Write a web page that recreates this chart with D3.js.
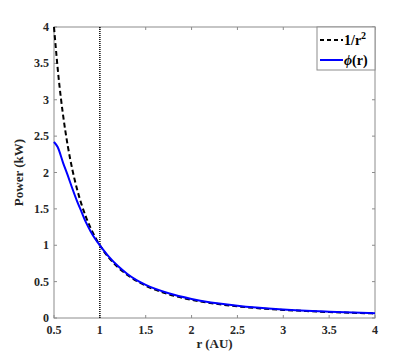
<!DOCTYPE html>
<html><head><meta charset="utf-8">
<script src="https://cdn.jsdelivr.net/npm/d3@7"></script>
<style>body{margin:0;background:#fff}</style>
</head><body>
<svg id="c" width="415" height="358"></svg>
<script>
const xTicks = [0.5,1,1.5,2,2.5,3,3.5,4];
const yTicks = [0,0.5,1,1.5,2,2.5,3,3.5,4];
const rInv = [0.5,0.55,0.6,0.65,0.7,0.75,0.8,0.85,0.9,0.95,1,1.1,1.2,1.3,1.4,1.5,1.75,2,2.25,2.5,2.75,3,3.25,3.5,3.75,4];
const invSq = [4,3.306,2.778,2.367,2.041,1.778,1.5625,1.384,1.235,1.108,1,0.826,0.694,0.592,0.510,0.444,0.327,0.25,0.198,0.16,0.132,0.111,0.095,0.082,0.071,0.0625];
const rPhi = [0.5,0.54,0.6,0.65,0.7,0.75,0.8,0.85,0.9,0.95,1,1.1,1.2,1.3,1.4,1.5,1.75,2,2.5,3,3.5,4];
const phi = [2.42,2.35,2.13,1.96,1.78,1.61,1.46,1.31,1.19,1.085,1.00,0.84,0.71,0.605,0.52,0.455,0.34,0.262,0.168,0.117,0.087,0.066];
const vLine = 1;

const svg = d3.select('#c');
const L=54,R=375,T=27,B=318;
const x = d3.scaleLinear().domain([0.5,4]).range([L,R]);
const y = d3.scaleLinear().domain([0,4]).range([B,T]);
const axisCol = '#8c8c8c';
const font = "'Liberation Serif','Times New Roman',serif";

svg.append('rect').attr('x',L).attr('y',T).attr('width',R-L).attr('height',B-T)
  .attr('fill','none').attr('stroke',axisCol).attr('stroke-width',1);

const tl = 3;
const g = svg.append('g').attr('stroke',axisCol).attr('stroke-width',1);
xTicks.forEach(t=>{
  g.append('line').attr('x1',x(t)).attr('x2',x(t)).attr('y1',B).attr('y2',B-tl);
  g.append('line').attr('x1',x(t)).attr('x2',x(t)).attr('y1',T).attr('y2',T+tl);
});
yTicks.forEach(t=>{
  g.append('line').attr('x1',L).attr('x2',L+tl).attr('y1',y(t)).attr('y2',y(t));
  g.append('line').attr('x1',R).attr('x2',R-tl).attr('y1',y(t)).attr('y2',y(t));
});
svg.append('g').selectAll('text').data(xTicks).join('text')
  .attr('x',d=>x(d)).attr('y',334).attr('text-anchor','middle')
  .attr('font-family',font).attr('font-weight','bold').attr('font-size',12).attr('fill','#262626')
  .text(d=>d);
svg.append('g').selectAll('text').data(yTicks).join('text')
  .attr('x',L-5).attr('y',d=>y(d)+4).attr('text-anchor','end')
  .attr('font-family',font).attr('font-weight','bold').attr('font-size',12).attr('fill','#262626')
  .text(d=>d);
svg.append('text').attr('x',(L+R)/2).attr('y',348).attr('text-anchor','middle')
  .attr('font-family',font).attr('font-weight','bold').attr('font-size',13).attr('fill','#262626')
  .text('r (AU)');
svg.append('text').attr('transform',`translate(23,${(T+B)/2}) rotate(-90)`).attr('text-anchor','middle')
  .attr('font-family',font).attr('font-weight','bold').attr('font-size',13).attr('fill','#262626')
  .text('Power (kW)');

svg.append('line').attr('x1',x(vLine)).attr('x2',x(vLine)).attr('y1',T).attr('y2',B)
  .attr('stroke','#000').attr('stroke-width',1.5).attr('stroke-dasharray','1,1');

const line = d3.line().curve(d3.curveMonotoneX);
svg.append('path').attr('d',line(rInv.map((r,i)=>[x(r),y(invSq[i])])))
  .attr('fill','none').attr('stroke','#000').attr('stroke-width',2).attr('stroke-dasharray','5,3');
svg.append('path').attr('d',line(rPhi.map((r,i)=>[x(r),y(phi[i])])))
  .attr('fill','none').attr('stroke','#0000ff').attr('stroke-width',2);

const lx=317, ly=27, lw=58, lh=43;
svg.append('rect').attr('x',lx).attr('y',ly).attr('width',lw).attr('height',lh)
  .attr('fill','#fff').attr('stroke',axisCol).attr('stroke-width',1);
svg.append('line').attr('x1',lx+3).attr('x2',lx+26).attr('y1',ly+13).attr('y2',ly+13)
  .attr('stroke','#000').attr('stroke-width',2).attr('stroke-dasharray','4,3');
svg.append('line').attr('x1',lx+3).attr('x2',lx+26).attr('y1',ly+33).attr('y2',ly+33)
  .attr('stroke','#0000ff').attr('stroke-width',2);
const t1 = svg.append('text').attr('x',lx+27).attr('y',ly+18)
  .attr('font-family',font).attr('font-weight','bold').attr('font-size',14).attr('fill','#000');
t1.append('tspan').text('1/r');
t1.append('tspan').attr('dy',-6).attr('font-size',10).text('2');
const t2 = svg.append('text').attr('x',lx+27).attr('y',ly+38)
  .attr('font-family',font).attr('font-weight','bold').attr('font-size',14).attr('fill','#000');
t2.append('tspan').attr('font-style','italic').text('ϕ');
t2.append('tspan').text('(r)');
</script>
</body></html>
